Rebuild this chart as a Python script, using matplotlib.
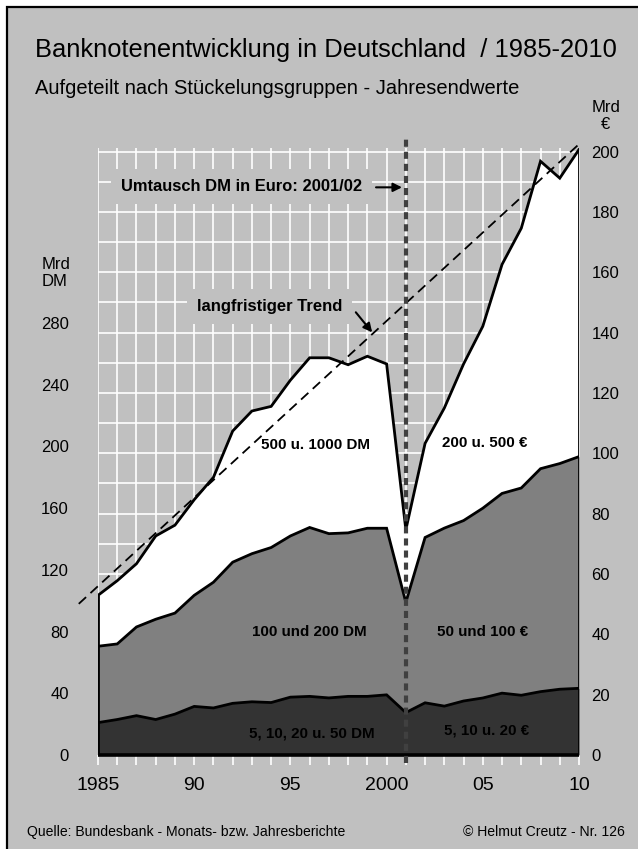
import numpy as np
import matplotlib.pyplot as plt
from matplotlib.patches import Rectangle
from matplotlib.ticker import FixedLocator, FixedFormatter

plt.rcParams['font.family'] = ['Liberation Sans', 'DejaVu Sans']

EUR_DM = 1.95583          # 1 Euro = 1,95583 DM
CHANGEOVER = 2001         # Umtausch DM -> Euro

# Mrd DM, Jahresendwerte 1985-2001
years_dm = list(range(1985, 2002))
small_dm = [21, 23, 25.5, 23, 26.5, 31.5, 30.5, 33.5, 34.5, 34, 37.5, 38, 37, 38, 38, 39, 27.5]
mid_dm = [49.5, 49, 57.5, 65, 65.5, 72, 81.5, 91.5, 96, 100.5, 104.5, 109.5, 106.5, 106, 109, 108, 71.5]
large_dm = [33, 41, 41, 54, 57, 62, 68, 85, 92.5, 91.5, 101, 110, 114, 109, 111.5, 106.5, 47]

# Mrd Euro, Jahresendwerte 2002-2010
years_eur = list(range(2002, 2011))
small_eur = [17.3, 16.2, 17.9, 18.9, 20.5, 19.8, 21.0, 21.8, 22.1]
mid_eur = [54.8, 59.0, 59.8, 62.9, 66.2, 68.7, 73.9, 74.8, 76.8]
large_eur = [31.2, 39.8, 51.9, 60.3, 75.9, 86.1, 101.9, 94.6, 101.8]

# langfristiger Trend (Mrd DM)
trend_years = [1984, 2010]
trend_dm = [98, 396]

x_tick_years = [1985, 1990, 1995, 2000, 2005, 2010]
x_tick_text = ['1985', '90', '95', '2000', '05', '10']
dm_ticks = list(range(0, 281, 40))
eur_ticks = list(range(0, 201, 20))

GRAY_BG = '#c0c0c0'

# alles in DM-Einheiten zeichnen
years = np.array(years_dm + years_eur)
small = np.array(small_dm + [v * EUR_DM for v in small_eur])
mid = np.array(mid_dm + [v * EUR_DM for v in mid_eur])
large = np.array(large_dm + [v * EUR_DM for v in large_eur])
lvl1 = small
lvl2 = small + mid
lvl3 = small + mid + large

fig = plt.figure(figsize=(6.38, 8.49), dpi=100)
fig.patch.set_facecolor('white')
fig.patches.append(Rectangle((7 / 638, -0.05), 1.1, 1 - 7 / 849 + 0.05, transform=fig.transFigure,
                             facecolor=GRAY_BG, edgecolor='black', linewidth=1.6, zorder=-10))

ax = fig.add_axes([98 / 638, 1 - 755 / 849, (579 - 98) / 638, (755 - 148) / 849])
ax.set_facecolor('none')
ax.set_xlim(1985, 2010)
ax.set_ylim(0, 393.5)
for s in ax.spines.values():
    s.set_visible(False)

# Gitter: jedes Jahr senkrecht, alle 10 Euro waagerecht
ax.xaxis.set_major_locator(FixedLocator(years))
ax.xaxis.set_major_formatter(FixedFormatter([x_tick_text[x_tick_years.index(y)] if y in x_tick_years else ''
                                             for y in years]))
ax.set_yticks(dm_ticks)
ax.set_yticks([e * EUR_DM for e in range(0, 201, 10)], minor=True)
ax.grid(True, axis='x', color='white', linewidth=1.2)
ax.grid(True, axis='y', which='minor', color='white', linewidth=1.2)
ax.set_axisbelow(True)
ax.tick_params(axis='x', length=7, width=1.2, color='white', pad=9, labelsize=14)
ax.tick_params(axis='y', which='both', length=0, pad=21, labelsize=12)

ax.fill_between(years, 0, lvl1, color='#333333', linewidth=0, zorder=2)
ax.fill_between(years, lvl1, lvl2, color='#808080', linewidth=0, zorder=2)
ax.fill_between(years, lvl2, lvl3, color='white', linewidth=0, zorder=2)
for lv in (lvl1, lvl2, lvl3):
    ax.plot(years, lv, color='black', linewidth=2, zorder=3, solid_joinstyle='miter')
ax.vlines([years[0], years[-1]], 0, [lvl3[0], lvl3[-1]], color='black', linewidth=2, zorder=3)
ax.hlines(0, years[0], years[-1], color='black', linewidth=2.6, zorder=3, clip_on=False)

ax.plot(trend_years, trend_dm, color='black', linewidth=1.3, dashes=(5.5, 3.3), zorder=4, clip_on=False)
ax.plot([CHANGEOVER, CHANGEOVER], [-5, 400], color='#404040', linewidth=3, dashes=(1.7, 1.2),
        zorder=5, clip_on=False)

ax2 = ax.twinx()
ax2.set_ylim(0, 393.5 / EUR_DM)
ax2.set_yticks(eur_ticks)
for s in ax2.spines.values():
    s.set_visible(False)
ax2.tick_params(axis='y', length=0, pad=9, labelsize=12)

arrow = dict(arrowstyle='-|>', color='black', lw=1.5, mutation_scale=13, shrinkA=0, shrinkB=0)
box = dict(boxstyle='square,pad=0.6', facecolor=GRAY_BG, edgecolor='none')
ax.text(1986.2, 368.5, 'Umtausch DM in Euro: 2001/02', fontsize=11.9, fontweight='bold',
        ha='left', va='center', bbox=box, zorder=6)
ax.annotate('', xy=(CHANGEOVER - 0.2, 368), xytext=(CHANGEOVER - 1.55, 368), arrowprops=arrow, zorder=6)
ax.text(1990.15, 291, 'langfristiger Trend', fontsize=12, fontweight='bold',
        ha='left', va='center', bbox=box, zorder=6)
ax.annotate('', xy=(1999.25, 274), xytext=(1998.4, 287), arrowprops=arrow, zorder=6)

lab = dict(fontsize=10.9, fontweight='bold', ha='center', va='center', zorder=6)
ax.text(1996.3, 201, '500 u. 1000 DM', **lab)
ax.text(2005.1, 202, '200 u. 500 €', **lab)
ax.text(1996.0, 79.5, '100 und 200 DM', **lab)
ax.text(2005.0, 80, '50 und 100 €', **lab)
ax.text(1996.1, 14, '5, 10, 20 u. 50 DM', **lab)
ax.text(2005.2, 16, '5, 10 u. 20 €', **lab)

fig.text(35 / 638, 1 - 50 / 849, 'Banknotenentwicklung in Deutschland  / 1985-2010', fontsize=18.4,
         ha='left', va='center')
fig.text(35 / 638, 1 - 88 / 849, 'Aufgeteilt nach Stückelungsgruppen - Jahresendwerte', fontsize=14.5,
         ha='left', va='center')
fig.text(42 / 638, 1 - 273 / 849, 'Mrd\nDM', fontsize=12, ha='left', va='center', linespacing=1.15)
fig.text(606 / 638, 1 - 116 / 849, 'Mrd\n€', fontsize=12, ha='center', va='center', linespacing=1.15)
fig.text(27 / 638, 1 - 832 / 849, 'Quelle: Bundesbank - Monats- bzw. Jahresberichte', fontsize=10.1,
         ha='left', va='center')
fig.text(625 / 638, 1 - 832 / 849, '© Helmut Creutz - Nr. 126', fontsize=10.1, ha='right', va='center')

fig.savefig('out.png', dpi=100)
